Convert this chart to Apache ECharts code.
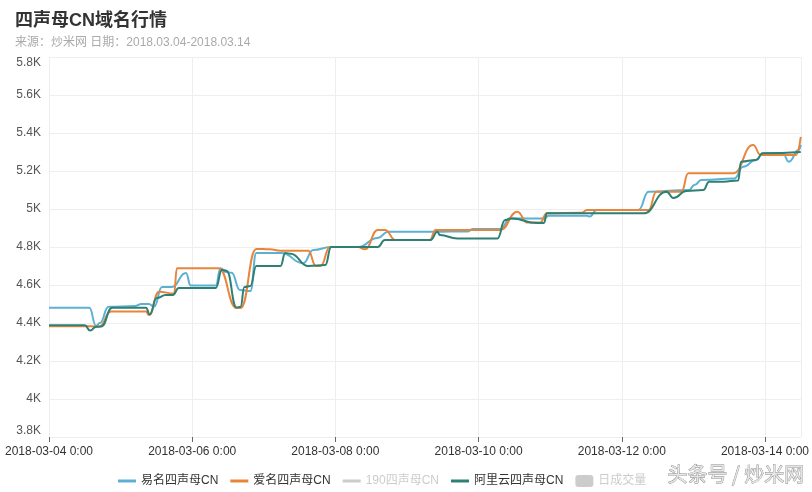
<!DOCTYPE html>
<html>
<head>
<meta charset="utf-8">
<script src="https://cdn.jsdelivr.net/npm/echarts@6/dist/echarts.min.js"></script>
<style>html,body{margin:0;padding:0;background:#fff}#c{width:812px;height:492px}</style>
</head>
<body>
<div id="c"></div>
<script>
// hours since 2018-03-04 00:00, price
const startDateUTC = Date.UTC(2018, 2, 4);
const xTickHours = [0, 48, 96, 144, 192, 240];
const yTicks = [3800, 4000, 4200, 4400, 4600, 4800, 5000, 5200, 5400, 5600, 5800];
const seriesNames = ['易名四声母CN', '爱名四声母CN', '190四声母CN', '阿里云四声母CN', '日成交量'];

const yimingData = [[0,4480],[13.5,4480],[15.8,4385],[17,4400],[20,4485],[29,4490],[31,4500],[33.5,4500],[35.2,4485],[37.9,4590],[41.2,4590],[45.9,4663],[47.5,4597],[55.9,4597],[57.5,4688],[59.2,4668],[61.2,4665],[64,4574],[67.5,4568],[69.5,4768],[77.9,4768],[85.2,4715],[88.6,4784],[94.6,4800],[103.6,4800],[110.2,4847],[113.6,4880],[129,4880],[140.3,4882],[142,4895],[151.3,4895],[154.6,4951],[166,4950],[167.5,4965],[180.3,4965],[181.2,4960],[183.6,4995],[197.6,4995],[201,5091],[214.6,5100],[216.3,5126],[218.7,5152],[229.7,5160],[232.7,5222],[237,5258],[239.3,5293],[246,5293],[248,5249],[251.3,5310],[252,5338]];

const aimingData = [[0,4383],[14,4383],[16.8,4380],[20.8,4460],[32.5,4460],[33.5,4442],[36.9,4565],[41.9,4555],[42.9,4688],[56.9,4688],[62.9,4479],[64.2,4479],[69.5,4790],[74,4788],[77.6,4780],[86.9,4780],[89.5,4700],[91,4700],[94.2,4800],[103.6,4800],[105.9,4788],[110.2,4890],[112.6,4890],[116.2,4837],[127.6,4837],[129.6,4890],[151.3,4890],[157,4986],[160.3,4929],[164.6,4929],[166.9,4978],[178.6,4980],[180.3,4995],[201,4995],[203.6,5091],[212,5091],[214.3,5188],[229.4,5188],[236,5337],[238.6,5284],[250.3,5284],[252,5380]];

const num190Data = [];

const aliyunData = [[0,4388],[12,4388],[13.8,4360],[15.8,4380],[17.5,4382],[21.2,4480],[32.5,4480],[33.8,4445],[36,4530],[39.2,4547],[41.5,4547],[43.5,4584],[55.9,4584],[58,4680],[59.5,4675],[62.9,4482],[64.2,4485],[65.5,4590],[67.5,4595],[69.5,4700],[77.6,4700],[79.2,4768],[81,4765],[86.9,4700],[92.6,4705],[94.6,4800],[110.2,4800],[112.6,4837],[127.9,4837],[130.2,4880],[131,4863],[136.9,4845],[150.3,4845],[152.9,4942],[155,4950],[163.6,4926],[165.9,4926],[166.9,4977],[199.3,4977],[206.98,5091],[209.3,5058],[213.7,5095],[219.3,5100],[221.3,5144],[226,5144],[231,5150],[232,5249],[237,5258],[239.3,5293],[252,5300]];

const dailyVolumeData = [];

const FONT = '"Liberation Sans", "Noto Sans CJK SC", sans-serif';
const LINE_ICON = 'path://M0,0 L18,0 L18,3 L0,3 Z';

function fmtHour(h) {
  const d = new Date(startDateUTC + h * 3600000);
  const p = n => (n < 10 ? '0' : '') + n;
  return d.getUTCFullYear() + '-' + p(d.getUTCMonth() + 1) + '-' + p(d.getUTCDate()) + ' ' + d.getUTCHours() + ':' + p(d.getUTCMinutes());
}

const chart = echarts.init(document.getElementById('c'), null, {renderer: 'canvas'});
const lineCommon = {type: 'line', symbol: 'none', smooth: 0.5, smoothMonotone: 'x', lineStyle: {width: 2}};
chart.setOption({
  animation: false,
  textStyle: {fontFamily: FONT},
  title: {
    text: '四声母CN域名行情',
    subtext: '来源：炒米网 日期：2018.03.04-2018.03.14',
    left: 10, top: 7, itemGap: 7,
    textStyle: {fontSize: 18, fontWeight: 'bold', color: '#333', fontFamily: FONT},
    subtextStyle: {fontSize: 12, color: '#aaa', fontFamily: FONT}
  },
  legend: {
    data: [
      {name: seriesNames[0], icon: LINE_ICON},
      {name: seriesNames[1], icon: LINE_ICON},
      {name: seriesNames[2], icon: LINE_ICON},
      {name: seriesNames[3], icon: LINE_ICON},
      {name: seriesNames[4], icon: 'roundRect'}
    ],
    symbolKeepAspect: true,
    left: 113, top: 470,
    itemWidth: 18, itemHeight: 12, itemGap: 12,
    textStyle: {fontSize: 12, color: '#333', fontFamily: FONT},
    inactiveColor: '#ccc',
    selected: {'190四声母CN': false, '日成交量': false}
  },
  grid: {left: 49, right: 7, top: 57, bottom: 55},
  xAxis: {
    type: 'value', min: 0, max: 252, interval: 48,
    axisLine: {show: false},
    axisTick: {show: true, length: 5, lineStyle: {color: '#666'}},
    axisLabel: {color: '#333', fontSize: 12, margin: 9, showMaxLabel: false, formatter: v => fmtHour(v)},
    splitLine: {show: true, lineStyle: {color: '#eee'}}
  },
  yAxis: {
    type: 'value', min: yTicks[0], max: yTicks[yTicks.length - 1], interval: 200,
    axisLine: {show: false},
    axisTick: {show: false},
    axisLabel: {color: '#555', fontSize: 12, margin: 8,
      verticalAlignMaxLabel: 'top', verticalAlignMinLabel: 'bottom',
      formatter: v => (v / 1000) + 'K'},
    splitLine: {show: true, lineStyle: {color: '#eee'}}
  },
  series: [
    Object.assign({}, lineCommon, {name: seriesNames[0], data: yimingData, color: '#5cb1d3'}),
    Object.assign({}, lineCommon, {name: seriesNames[1], data: aimingData, color: '#e8853b'}),
    Object.assign({}, lineCommon, {name: seriesNames[2], data: num190Data, color: '#b9b9d0'}),
    Object.assign({}, lineCommon, {name: seriesNames[3], data: aliyunData, color: '#2f7f73'}),
    {name: seriesNames[4], type: 'bar', data: dailyVolumeData, color: '#bbb'}
  ],
  graphic: [{
    type: 'text', left: 667, top: 464, z: 100,
    style: {text: '头条号 / 炒米网', fontSize: 20, fontFamily: '"Noto Sans CJK SC", sans-serif', fill: '#e6e6e6', stroke: '#8a8a8a', lineWidth: 0.8}
  }]
});
</script>
</body>
</html>
